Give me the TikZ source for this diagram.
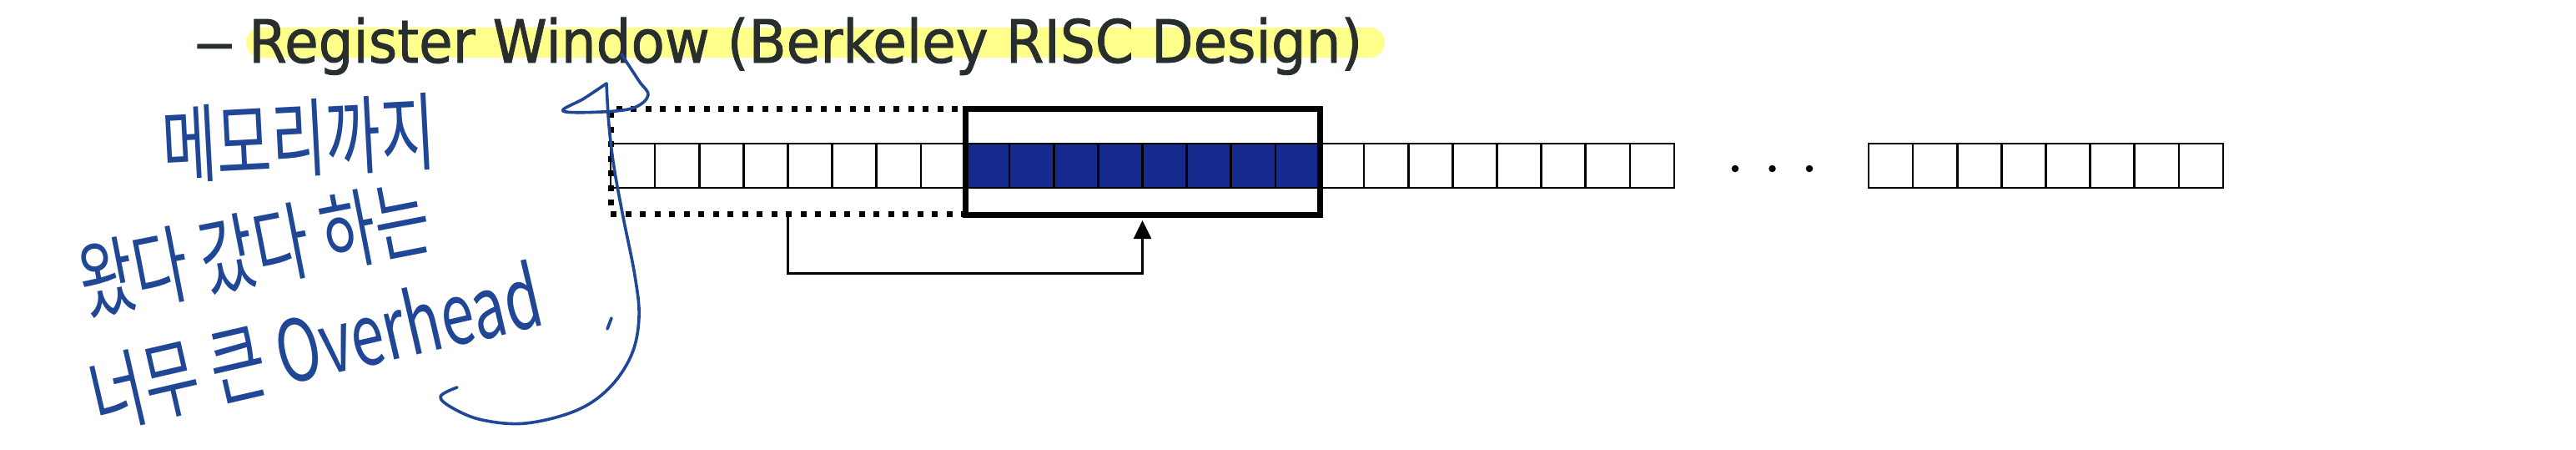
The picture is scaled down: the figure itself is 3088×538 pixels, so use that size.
\documentclass[tikz,border=0pt]{standalone}
\usepackage{fontspec}
\newfontfamily\titlefont[FakeBold=1.2]{DejaVu Sans}
\newfontfamily\handfont{Noto Sans CJK KR}
\usetikzlibrary{arrows.meta,positioning}
\definecolor{titlegray}{RGB}{40,46,46}
\definecolor{markyellow}{RGB}{255,255,140}
\definecolor{winblue}{RGB}{20,42,140}
\definecolor{penblue}{RGB}{32,70,150}
\newcommand{\tallhand}[1]{\scalebox{1.05}[1.5]{#1}}

\begin{document}
\begin{tikzpicture}[x=1pt, y=-1pt,
    cell/.style={rectangle, draw=black, line width=2.6pt, minimum size=53.125pt, inner sep=0pt, outer sep=0pt},
    activecell/.style={cell, fill=winblue},
    oldwin/.style={rectangle, draw=black, line width=7pt, dash pattern=on 7pt off 10.5pt, minimum width=425pt, minimum height=126pt, inner sep=0pt},
    curwin/.style={rectangle, draw=black, line width=7pt, minimum width=425pt, minimum height=127pt, inner sep=0pt},
    dotmark/.style={circle, fill=black, minimum size=8.5pt, inner sep=0pt},
    arrow/.style={line width=2.6pt, -{Triangle[width=21pt,length=22pt]}},
    heading/.style={text=titlegray, font=\titlefont\fontsize{71.3}{80}\selectfont, inner sep=0pt, anchor=base west},
    scribble/.style={text=penblue, font=\handfont\fontsize{68}{68}\selectfont, inner sep=0pt},
    pen/.style={draw=penblue, line width=3.6pt, line cap=round, line join=round}
]
\useasboundingbox (0,0) rectangle (3088,538);

% Title with highlighter
\draw[markyellow, line width=36pt, line cap=round] (313,51) -- (1642,51);
\node[heading] (bullet) at (232,75) {\scalebox{1.4}[1]{–}};
\node[heading] (title) at (298,75) {\scalebox{0.925}[1]{Register Window (Berkeley RISC Design)}};

% Register file
\foreach \i in {0,...,7} \node[cell] (a\i) at ({758.5625+53.125*\i}, 198.5) {};
\foreach \i in {0,...,7} \node[activecell] (b\i) at ({1183.5625+53.125*\i}, 198.5) {};
\foreach \i in {0,...,7} \node[cell] (c\i) at ({1608.5625+53.125*\i}, 198.5) {};
\foreach \i in {0,...,7} \node[cell] (d\i) at ({2266.5625+53.125*\i}, 198.5) {};
\foreach \x [count=\k] in {2080,2124.5,2169} \node[dotmark] (gap\k) at (\x, 202) {};

% Windows
\node[oldwin] (prevwin) at (944.5, 193) {};
\node[curwin] (curwin) at (1369.5, 193.5) {};

% Window shift
\draw[arrow] (prevwin.south) -- ++(0,68) -| ([yshift=-3.5pt]curwin.south);

% Handwritten note
\node[scribble, rotate=3] (memo1) at (358,166) {\tallhand{메모리까지}};
\node[scribble, rotate=11] (memo2) at (305,298) {\tallhand{왔다 갔다 하는}};
\node[scribble, rotate=13] (memo3) at (378,414) {\tallhand{너무 큰 Overhead}};
\draw[pen] plot[smooth, tension=0.6] coordinates {(745,65) (766,97) (777,114) (760,129) (722,134) (675,133) (700,118) (727,100)};
\draw[pen] plot[smooth, tension=0.6] coordinates {(727,100) (730,150) (736,200) (747,260) (761,330) (766,380) (757,425) (730,465) (690,492) (630,507) (578,503) (543,489) (528,475) (548,464)};
\draw[pen] (733,381) -- (728,394);

\end{tikzpicture}
\end{document}
